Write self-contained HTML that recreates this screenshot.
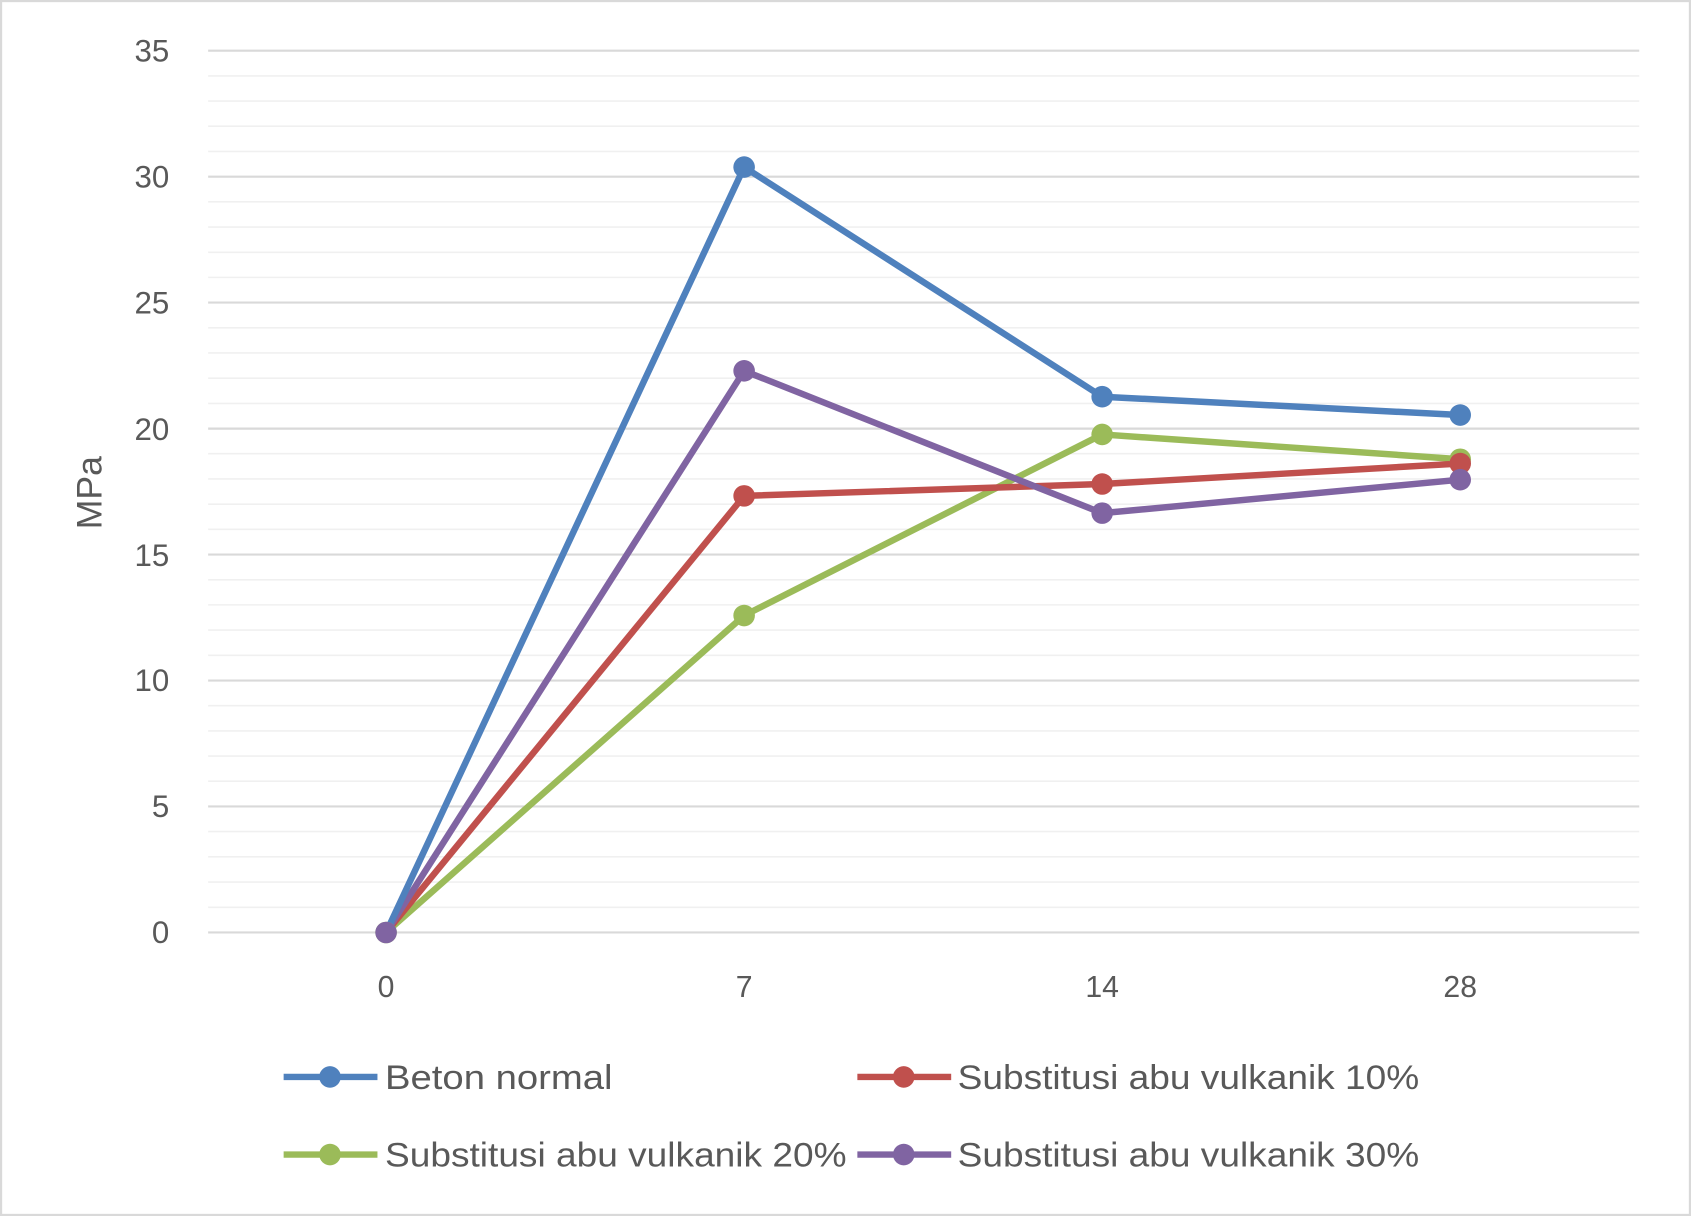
<!DOCTYPE html>
<html><head><meta charset="utf-8"><style>html,body{margin:0;padding:0;background:#fff}svg{display:block}</style></head>
<body>
<svg width="1691" height="1216" viewBox="0 0 1568 1128" preserveAspectRatio="none" xmlns="http://www.w3.org/2000/svg" font-family="Liberation Sans, sans-serif" fill="#595959">
<rect x="1" y="1" width="1566" height="1126" fill="#fff" stroke="#d9d9d9" stroke-width="2"/>
<g stroke="#f0f0f0" stroke-width="1.5">
<line x1="193" x2="1520" y1="70.4" y2="70.4"/><line x1="193" x2="1520" y1="93.7" y2="93.7"/><line x1="193" x2="1520" y1="117.1" y2="117.1"/><line x1="193" x2="1520" y1="140.5" y2="140.5"/>
<line x1="193" x2="1520" y1="187.2" y2="187.2"/><line x1="193" x2="1520" y1="210.6" y2="210.6"/><line x1="193" x2="1520" y1="234" y2="234"/><line x1="193" x2="1520" y1="257.3" y2="257.3"/>
<line x1="193" x2="1520" y1="304.1" y2="304.1"/><line x1="193" x2="1520" y1="327.4" y2="327.4"/><line x1="193" x2="1520" y1="350.8" y2="350.8"/><line x1="193" x2="1520" y1="374.2" y2="374.2"/>
<line x1="193" x2="1520" y1="420.9" y2="420.9"/><line x1="193" x2="1520" y1="444.3" y2="444.3"/><line x1="193" x2="1520" y1="467.7" y2="467.7"/><line x1="193" x2="1520" y1="491" y2="491"/>
<line x1="193" x2="1520" y1="537.8" y2="537.8"/><line x1="193" x2="1520" y1="561.1" y2="561.1"/><line x1="193" x2="1520" y1="584.5" y2="584.5"/><line x1="193" x2="1520" y1="607.9" y2="607.9"/>
<line x1="193" x2="1520" y1="654.6" y2="654.6"/><line x1="193" x2="1520" y1="678" y2="678"/><line x1="193" x2="1520" y1="701.4" y2="701.4"/><line x1="193" x2="1520" y1="724.7" y2="724.7"/>
<line x1="193" x2="1520" y1="771.4" y2="771.4"/><line x1="193" x2="1520" y1="794.8" y2="794.8"/><line x1="193" x2="1520" y1="818.2" y2="818.2"/><line x1="193" x2="1520" y1="841.6" y2="841.6"/>
</g>
<g stroke="#d9d9d9" stroke-width="2">
<line x1="193" x2="1520" y1="47" y2="47"/><line x1="193" x2="1520" y1="163.9" y2="163.9"/><line x1="193" x2="1520" y1="280.7" y2="280.7"/><line x1="193" x2="1520" y1="397.6" y2="397.6"/><line x1="193" x2="1520" y1="514.4" y2="514.4"/><line x1="193" x2="1520" y1="631.3" y2="631.3"/><line x1="193" x2="1520" y1="748.1" y2="748.1"/><line x1="193" x2="1520" y1="865" y2="865"/>
</g>
<g font-size="29" text-anchor="end">
<text x="157" y="57">35</text><text x="157" y="174">30</text><text x="157" y="291">25</text><text x="157" y="408">20</text><text x="157" y="525">15</text><text x="157" y="641">10</text><text x="157" y="758">5</text><text x="157" y="875">0</text>
</g>
<g font-size="28" text-anchor="middle">
<text x="358" y="925">0</text><text x="690" y="925">7</text><text x="1022" y="925">14</text><text x="1354" y="925">28</text>
</g>
<text transform="translate(94,457) rotate(-90)" font-size="33" text-anchor="middle">MPa</text>
<g stroke-width="6" fill="none" stroke-linejoin="round">
<polyline stroke="#9BBB59" points="358,865 690,571 1022,403 1354,426"/>
<polyline stroke="#C0504D" points="358,865 690,460 1022,449 1354,430"/>
<polyline stroke="#8064A2" points="358,865 690,344 1022,476 1354,445"/>
<polyline stroke="#4F81BD" points="358,865 690,155 1022,368 1354,385"/>
</g>
<g fill="#9BBB59"><circle cx="358" cy="865" r="10"/><circle cx="690" cy="571" r="10"/><circle cx="1022" cy="403" r="10"/><circle cx="1354" cy="426" r="10"/></g>
<g fill="#C0504D"><circle cx="690" cy="460" r="10"/><circle cx="1022" cy="449" r="10"/><circle cx="1354" cy="430" r="10"/></g>
<g fill="#8064A2"><circle cx="690" cy="344" r="10"/><circle cx="1022" cy="476" r="10"/><circle cx="1354" cy="445" r="10"/><circle cx="358" cy="865" r="10"/></g>
<g fill="#4F81BD"><circle cx="690" cy="155" r="10"/><circle cx="1022" cy="368" r="10"/><circle cx="1354" cy="385" r="10"/></g>
<g stroke-width="6">
<line x1="263" x2="350" y1="999" y2="999" stroke="#4F81BD"/><circle cx="306" cy="999" r="10" fill="#4F81BD"/>
<line x1="795" x2="882" y1="999" y2="999" stroke="#C0504D"/><circle cx="838" cy="999" r="10" fill="#C0504D"/>
<line x1="263" x2="350" y1="1071" y2="1071" stroke="#9BBB59"/><circle cx="306" cy="1071" r="10" fill="#9BBB59"/>
<line x1="795" x2="882" y1="1071" y2="1071" stroke="#8064A2"/><circle cx="838" cy="1071" r="10" fill="#8064A2"/>
</g>
<g font-size="32">
<text x="357" y="1010" textLength="211" lengthAdjust="spacingAndGlyphs">Beton normal</text>
<text x="888" y="1010" textLength="428" lengthAdjust="spacingAndGlyphs">Substitusi abu vulkanik 10%</text>
<text x="357" y="1082" textLength="428" lengthAdjust="spacingAndGlyphs">Substitusi abu vulkanik 20%</text>
<text x="888" y="1082" textLength="428" lengthAdjust="spacingAndGlyphs">Substitusi abu vulkanik 30%</text>
</g>
</svg>
</body></html>
